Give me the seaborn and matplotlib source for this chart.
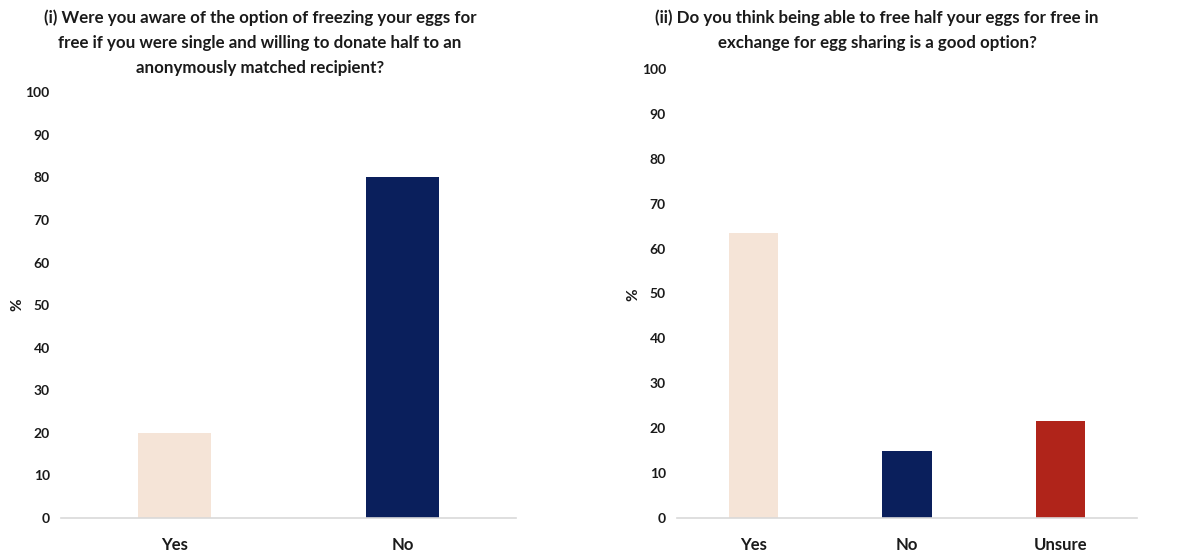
import matplotlib
matplotlib.use("Agg")
import matplotlib.pyplot as plt
import seaborn as sns
import pandas as pd

# Data
cats1 = ["Yes", "No"]
vals1 = [20, 80]
cats2 = ["Yes", "No", "Unsure"]
vals2 = [63.5, 15, 21.5]
colors = {"Yes": "#F5E4D7", "No": "#0A1F5C", "Unsure": "#B0241A"}
yticks = [0, 10, 20, 30, 40, 50, 60, 70, 80, 90, 100]
title1 = ("(i) Were you aware of the option of freezing your eggs for\n"
          "free if you were single and willing to donate half to an\n"
          "anonymously matched recipient?")
title2 = ("(ii) Do you think being able to free half your eggs for free in\n"
          "exchange for egg sharing is a good option?")

sns.set_style("white")
plt.rcParams["font.family"] = ["Lato", "DejaVu Sans"]

fig = plt.figure(figsize=(11.95, 5.55), dpi=100)
ax1 = fig.add_axes([0.051, 0.0667, 0.381, 0.767])
ax2 = fig.add_axes([0.5665, 0.0667, 0.385, 0.809])

df1 = pd.DataFrame({"cat": cats1, "val": vals1})
df2 = pd.DataFrame({"cat": cats2, "val": vals2})

for ax, df in ((ax1, df1), (ax2, df2)):
    sns.barplot(data=df, x="cat", y="val", hue="cat", palette=colors,
                width=0.32, legend=False, ax=ax, saturation=1,
                edgecolor="none")
    ax.set_ylim(0, 100)
    ax.set_yticks(yticks)
    ax.set_yticklabels([str(t) for t in yticks], fontweight="bold",
                       fontsize=10, color="#1a1a1a")
    ax.tick_params(axis="y", length=0, pad=8)
    ax.tick_params(axis="x", length=0, pad=14)
    for lbl in ax.get_xticklabels():
        lbl.set_fontweight("bold")
        lbl.set_fontsize(12)
        lbl.set_color("#1a1a1a")
    ax.set_xlabel("")
    ax.set_ylabel("")
    for s in ("top", "right", "left"):
        ax.spines[s].set_visible(False)
    ax.spines["bottom"].set_color("#d9d9d9")
    ax.spines["bottom"].set_linewidth(1.2)

# y-axis labels
fig.text(17 / 1195, 1 - 305 / 555, "%", rotation=90, ha="center", va="center",
         fontweight="bold", fontsize=11, color="#1a1a1a")
fig.text(633 / 1195, 1 - 295 / 555, "%", rotation=90, ha="center", va="center",
         fontweight="bold", fontsize=11, color="#1a1a1a")

fig.text(260 / 1195, 0.983, title1, ha="center", va="top", fontsize=12.2,
         fontweight="bold", color="#1a1a1a", linespacing=1.68)
fig.text(877 / 1195, 0.983, title2, ha="center", va="top", fontsize=12.2,
         fontweight="bold", color="#1a1a1a", linespacing=1.68)

fig.savefig("out.png", dpi=100)
